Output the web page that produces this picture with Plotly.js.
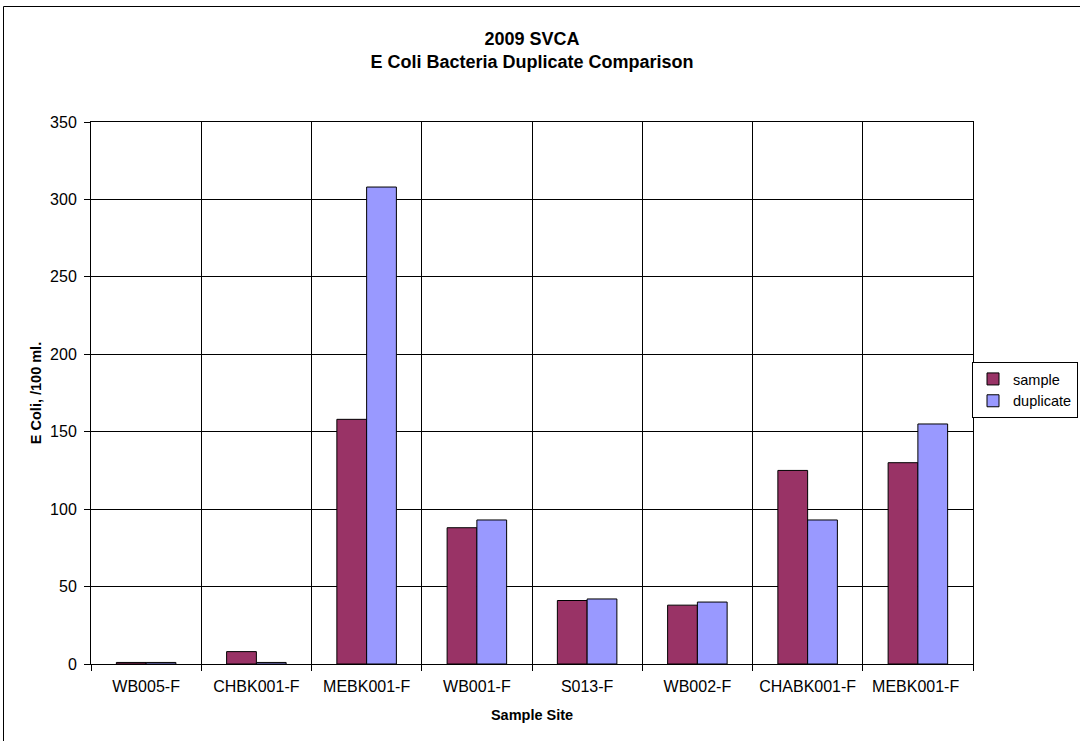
<!DOCTYPE html>
<html>
<head>
<meta charset="utf-8">
<script src="https://cdn.plot.ly/plotly-3.0.1.min.js"></script>
<style>html,body{margin:0;padding:0;background:#fff;}#chart{width:1080px;height:741px;}</style>
</head>
<body>
<div id="chart"></div>
<script>
var sites = ["WB005-F", "CHBK001-F", "MEBK001-F", "WB001-F", "S013-F", "WB002-F", "CHABK001-F", "MEBK001-F "];
var sampleVals = [1, 8, 158, 88, 41, 38, 125, 130];
var duplicateVals = [1, 1, 308, 93, 42, 40, 93, 155];
var yTicks = [0, 50, 100, 150, 200, 250, 300, 350];

var font = "Liberation Sans, Arial, sans-serif";
var traces = [
  {type: "bar", name: "sample", x: sites, y: sampleVals,
   marker: {color: "#993366", line: {color: "#000", width: 1}}},
  {type: "bar", name: "duplicate", x: sites, y: duplicateVals,
   marker: {color: "#9999FF", line: {color: "#000", width: 1}}}
];
var W = 1080, H = 741, L = 91, R = 107, T = 122, B = 77;
var pw = W - L - R, ph = H - T - B;
function px(x){ return (x - L) / pw; }
function py(y){ return (H - B - y) / ph; }
var layout = {
  width: W, height: H,
  margin: {l: L, r: R, t: T, b: B, autoexpand: false},
  paper_bgcolor: "#fff", plot_bgcolor: "#fff",
  font: {family: font, size: 16, color: "#000"},
  barmode: "group", bargap: 0.46, bargroupgap: 0,
  showlegend: true,
  title: {text: "<b>2009 SVCA</b><br><b>E Coli Bacteria Duplicate Comparison</b>",
          font: {family: font, size: 18, color: "#000"},
          xref: "paper", x: 0.5, xanchor: "center",
          yref: "container", y: 1 - 45 / H, yanchor: "middle"},
  xaxis: {type: "category", tickson: "boundaries", showgrid: true, gridcolor: "#000", gridwidth: 1,
          ticks: "outside", ticklen: 6, tickcolor: "#000", ticklabelstandoff: 8,
          showline: true, linecolor: "#000", linewidth: 1, mirror: true,
          tickfont: {family: font, size: 16, color: "#000"},
          title: {text: "<b>Sample Site</b>", font: {family: font, size: 14.5, color: "#000"}, standoff: 15}},
  yaxis: {range: [0, 350], tickvals: yTicks, showgrid: true, gridcolor: "#000", gridwidth: 1,
          ticks: "outside", ticklen: 6, tickcolor: "#000", ticklabelstandoff: 4,
          showline: true, linecolor: "#000", linewidth: 1, mirror: true, zeroline: false,
          tickfont: {family: font, size: 16, color: "#000"},
          title: {text: "<b>E Coli, /100 ml.</b>", font: {family: font, size: 14.5, color: "#000"}, standoff: 5}},
  legend: {x: px(972), xanchor: "left", y: py(390), yanchor: "middle",
           bordercolor: "#000", borderwidth: 1, bgcolor: "#fff",
           font: {family: font, size: 14.5, color: "#000"}, tracegroupgap: 0, itemwidth: 30},
  shapes: [
    {type: "line", xref: "paper", yref: "paper", x0: px(3.5), x1: px(1085), y0: py(6.5), y1: py(6.5), line: {color: "#000", width: 1}},
    {type: "line", xref: "paper", yref: "paper", x0: px(3.5), x1: px(3.5), y0: py(6.5), y1: py(745), line: {color: "#000", width: 1}}
  ]
};
Plotly.newPlot("chart", traces, layout, {displayModeBar: false, staticPlot: true});
</script>
</body>
</html>
